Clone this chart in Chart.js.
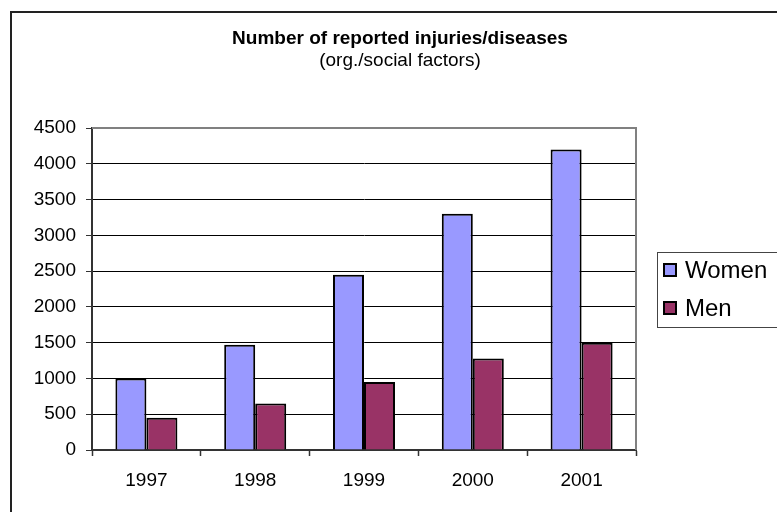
<!DOCTYPE html>
<html>
<head>
<meta charset="utf-8">
<script src="https://cdn.jsdelivr.net/npm/chart.js@4/dist/chart.umd.min.js"></script>
<style>
  html, body { margin: 0; padding: 0; background: #fff; overflow: hidden; }
  #wrap { position: relative; width: 777px; height: 512px; }
  #frame { position: absolute; left: 10px; top: 11px; width: 800px; height: 540px;
           border: 2px solid #222; box-sizing: border-box; }
  canvas { position: absolute; left: 0; top: 0; }
</style>
</head>
<body>
<div id="wrap">
  <div id="frame"></div>
  <canvas id="c" width="777" height="512"></canvas>
</div>
<script>
// Reported injuries/diseases caused by organisational/social factors
const years = ['1997', '1998', '1999', '2000', '2001'];
const women = [1000, 1470, 2450, 3300, 4200];
const men = [450, 650, 950, 1280, 1500];
const seriesNames = ['Women', 'Men'];
const titleText = 'Number of reported injuries/diseases';
const subtitleText = '(org./social factors)';

const FONT = '"Liberation Sans", Arial, sans-serif';

// Titles, plot border and the boxed legend on the right
const decorations = {
  id: 'decorations',
  afterDraw(chart) {
    const ctx = chart.ctx;
    const a = chart.chartArea;
    ctx.save();

    // grey border on the top and right sides of the plot
    ctx.strokeStyle = '#808080';
    ctx.lineWidth = 2;
    ctx.beginPath();
    ctx.moveTo(a.left, a.top);
    ctx.lineTo(a.right, a.top);
    ctx.lineTo(a.right, a.bottom);
    ctx.stroke();

    // titles
    ctx.fillStyle = '#000';
    ctx.textAlign = 'center';
    ctx.textBaseline = 'middle';
    ctx.font = 'bold 19px ' + FONT;
    ctx.fillText(titleText, 400, 39);
    ctx.font = '19px ' + FONT;
    ctx.fillText(subtitleText, 400, 61);

    // legend box
    ctx.fillStyle = '#fff';
    ctx.fillRect(657, 252, 140, 75);
    ctx.strokeStyle = '#444';
    ctx.lineWidth = 1;
    ctx.strokeRect(657.5, 252.5, 140, 75);

    const rows = [270, 308];
    chart.data.datasets.forEach((ds, i) => {
      const y = rows[i];
      ctx.fillStyle = ds.backgroundColor;
      ctx.fillRect(663, y - 7, 14, 14);
      ctx.strokeStyle = '#000';
      ctx.lineWidth = 2;
      ctx.strokeRect(664, y - 6, 12, 12);
      ctx.fillStyle = '#000';
      ctx.textAlign = 'left';
      ctx.textBaseline = 'middle';
      ctx.font = '24px ' + FONT;
      ctx.fillText(ds.label, 685, y + 1);
    });
    ctx.restore();
  }
};

new Chart(document.getElementById('c'), {
  type: 'bar',
  data: {
    labels: years,
    datasets: [
      { label: seriesNames[0], data: women, backgroundColor: '#9999FF',
        borderColor: '#000', borderWidth: 2 },
      { label: seriesNames[1], data: men, backgroundColor: '#993366',
        borderColor: '#000', borderWidth: 2 }
    ]
  },
  options: {
    responsive: false,
    animation: false,
    devicePixelRatio: 1,
    layout: { padding: { left: 0, right: 141, top: 128, bottom: 0 } },
    datasets: { bar: { categoryPercentage: 0.57, barPercentage: 1.0 } },
    plugins: {
      legend: { display: false },
      title: { display: false },
      tooltip: { enabled: false }
    },
    scales: {
      x: {
        afterFit(scale) { scale.height = 62; },
        grid: { offset: true, drawOnChartArea: false, drawTicks: true,
                tickLength: 6, tickColor: '#333', tickWidth: 1.5 },
        border: { color: '#333', width: 2 },
        ticks: { color: '#000', font: { family: FONT, size: 19 }, padding: 13,
                 maxRotation: 0 }
      },
      y: {
        min: 0,
        max: 4500,
        afterFit(scale) { scale.width = 92; },
        grid: {
          color: (c) => (c.tick && c.tick.value === 4500 ? '#808080' : '#000'),
          lineWidth: 1,
          drawTicks: true, tickLength: 6, tickColor: '#333'
        },
        border: { color: '#333', width: 2 },
        ticks: { stepSize: 500, color: '#000', font: { family: FONT, size: 19 },
                 padding: 10, callback: (v) => String(v) }
      }
    }
  },
  plugins: [decorations]
});
</script>
</body>
</html>
